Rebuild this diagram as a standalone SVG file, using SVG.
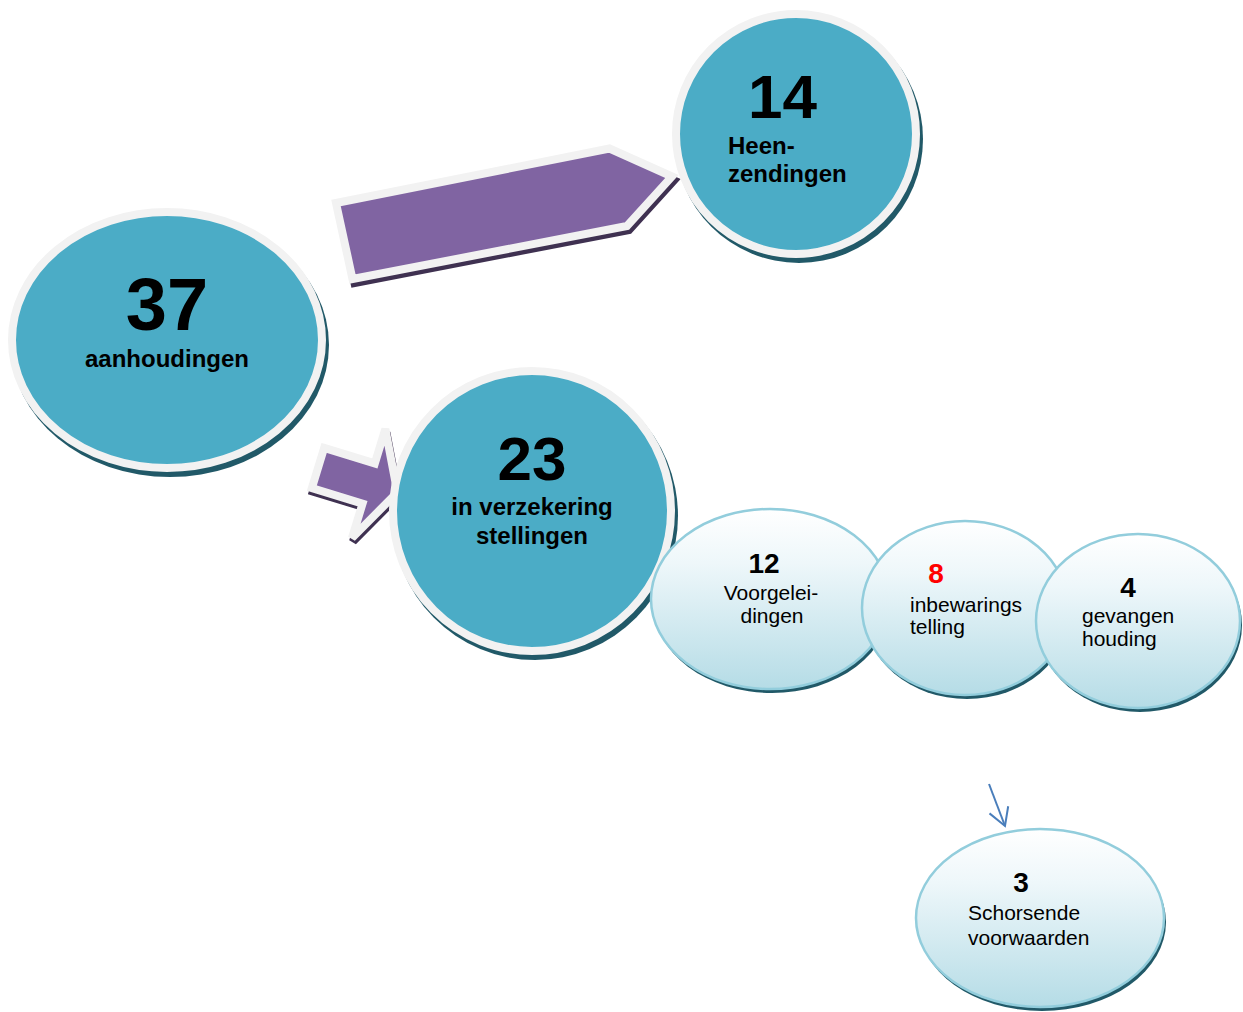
<svg xmlns="http://www.w3.org/2000/svg" width="1243" height="1012" viewBox="0 0 1243 1012">
<style>
text{font-family:"Liberation Sans",Arial,sans-serif;fill:#000}
.b{font-weight:bold}
.teal{fill:#4bacc6}
.ring{fill:none;stroke:#f2f2f2;stroke-width:8}
.shd{fill:#215968}
.soft{fill:url(#g)}
.softline{fill:none;stroke:#92cddc;stroke-width:2.5}
.arw{fill:#8064a2;stroke:#f2f2f2;stroke-width:8;stroke-linejoin:miter}
.arwsh{fill:#3f3151;stroke:#3f3151;stroke-width:8}
.num{font-size:28px;font-weight:bold}
.lbl{font-size:21px}
</style>
<defs>
<linearGradient id="g" x1="0" y1="0" x2="0" y2="1">
<stop offset="0" stop-color="#ffffff"/>
<stop offset="0.3" stop-color="#eef7fa"/>
<stop offset="1" stop-color="#b5dce6"/>
</linearGradient>
<marker id="open" markerUnits="userSpaceOnUse" markerWidth="26" markerHeight="26" viewBox="-22 -13 26 26" refX="0" refY="0" orient="auto">
<path d="M-17.3,-10 L0,0 L-17.3,10" fill="none" stroke="#4a7ebb" stroke-width="2"/>
</marker>
</defs>

<g id="connectors">
<g id="arrow-big">
<polygon class="arwsh" transform="translate(2,4)" points="336,203 609.5,148.5 672,176.5 627,226 352.5,279"/>
<polygon class="arw" points="336,203 609.5,148.5 672,176.5 627,226 352.5,279"/>
</g>
<g id="arrow-small" transform="translate(318,468) rotate(17)">
<polygon class="arwsh" transform="translate(2,3)" points="0,-21 53,-21 53,-57 83,0 53,57 53,21 0,21"/>
<polygon class="arw" points="0,-21 53,-21 53,-57 83,0 53,57 53,21 0,21"/>
</g>
<line id="arrow-3" x1="989" y1="784" x2="1005" y2="826" stroke="#4a7ebb" stroke-width="2" marker-end="url(#open)"/>
</g>

<g id="node-37">
<ellipse class="shd" cx="170" cy="345" rx="159" ry="132"/>
<ellipse class="teal" cx="167" cy="340" rx="155" ry="128"/>
<ellipse class="ring" cx="167" cy="340" rx="155" ry="128"/>
<text class="b" x="167" y="330" font-size="74" text-anchor="middle">37</text>
<text class="b" x="167" y="367" font-size="24" text-anchor="middle">aanhoudingen</text>
</g>

<g id="node-14">
<ellipse class="shd" cx="799" cy="139" rx="124" ry="124"/>
<ellipse class="teal" cx="796" cy="134" rx="120" ry="120"/>
<ellipse class="ring" cx="796" cy="134" rx="120" ry="120"/>
<text class="b" x="748" y="118" font-size="62">14</text>
<text class="b" x="728" y="154" font-size="24">Heen-</text>
<text class="b" x="728" y="182" font-size="24">zendingen</text>
</g>

<g id="node-23">
<ellipse class="shd" cx="535" cy="516" rx="143" ry="144"/>
<ellipse class="teal" cx="532" cy="511" rx="139" ry="140"/>
<ellipse class="ring" cx="532" cy="511" rx="139" ry="140"/>
<text class="b" x="532" y="480" font-size="62" text-anchor="middle">23</text>
<text class="b" x="532" y="515" font-size="24" text-anchor="middle">in verzekering</text>
<text class="b" x="532" y="544" font-size="24" text-anchor="middle">stellingen</text>
</g>

<g id="node-12">
<ellipse class="shd" cx="772" cy="603" rx="119" ry="90"/>
<ellipse class="soft" cx="770" cy="599" rx="119" ry="90"/>
<ellipse class="softline" cx="770" cy="599" rx="119" ry="90"/>
<text class="num" x="764" y="573" text-anchor="middle">12</text>
<text class="lbl" x="771" y="600" text-anchor="middle">Voorgelei-</text>
<text class="lbl" x="772" y="623" text-anchor="middle">dingen</text>
</g>

<g id="node-8">
<ellipse class="shd" cx="967" cy="612" rx="103" ry="87"/>
<ellipse class="soft" cx="965" cy="608" rx="103" ry="87"/>
<ellipse class="softline" cx="965" cy="608" rx="103" ry="87"/>
<text class="num" x="936" y="583" text-anchor="middle" style="fill:#ff0000">8</text>
<text class="lbl" x="910" y="612">inbewarings</text>
<text class="lbl" x="910" y="634">telling</text>
</g>

<g id="node-4">
<ellipse class="shd" cx="1140" cy="625" rx="102" ry="87"/>
<ellipse class="soft" cx="1138" cy="621" rx="102" ry="87"/>
<ellipse class="softline" cx="1138" cy="621" rx="102" ry="87"/>
<text class="num" x="1128" y="597" text-anchor="middle">4</text>
<text class="lbl" x="1082" y="623">gevangen</text>
<text class="lbl" x="1082" y="646">houding</text>
</g>

<g id="node-3">
<ellipse class="shd" cx="1042" cy="922" rx="124" ry="89"/>
<ellipse class="soft" cx="1040" cy="918" rx="124" ry="89"/>
<ellipse class="softline" cx="1040" cy="918" rx="124" ry="89"/>
<text class="num" x="1021" y="892" text-anchor="middle">3</text>
<text class="lbl" x="968" y="920">Schorsende</text>
<text class="lbl" x="968" y="945">voorwaarden</text>
</g>
</svg>
